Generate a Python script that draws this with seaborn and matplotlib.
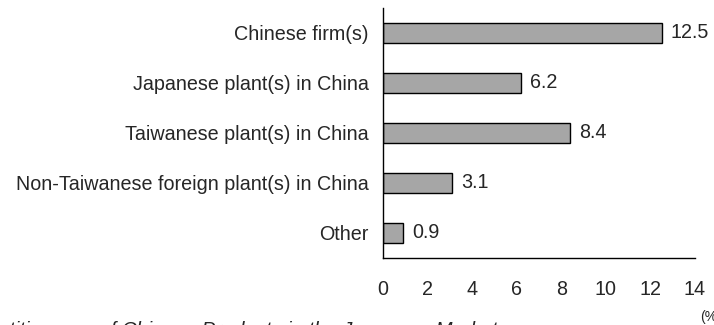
import matplotlib
matplotlib.use("Agg")
import matplotlib.pyplot as plt
import seaborn as sns
import pandas as pd
import numpy as np

categories = ["Chinese firm(s)", "Japanese plant(s) in China", "Taiwanese plant(s) in China",
              "Non-Taiwanese foreign plant(s) in China", "Other"]
values = [12.5, 6.2, 8.4, 3.1, 0.9]
value_labels = ["12.5", "6.2", "8.4", "3.1", "0.9"]
x_ticks = [0, 2, 4, 6, 8, 10, 12, 14]
footer = "Competitiveness of Chinese Products in the Japanese Market"
unit = "(%)"

sns.set_style("white")
plt.rcParams['font.family'] = ['Liberation Sans', 'DejaVu Sans']

df = pd.DataFrame({"category": categories, "value": values})

fs = 14.2
fig = plt.figure(figsize=(7.14, 3.25), dpi=100)
ax = fig.add_axes([383/714, 1 - 258/325, (695 - 383)/714, 250/325])
sns.barplot(data=df, x="value", y="category", orient="h", color="#a6a6a6",
            edgecolor="black", linewidth=1.0, width=0.4, saturation=1, ax=ax)

ax.set_xlim(0, 14)
ax.set_ylim(4.5, -0.5)
ax.set_xticks(x_ticks)
ax.set_xticklabels([str(t) for t in x_ticks], fontsize=fs)
ax.set_xlabel("")
ax.set_ylabel("")
ax.tick_params(axis='y', which='major', length=0, labelsize=fs, pad=10.5)
ax.set_yticks(np.arange(-0.5, 5.0, 1.0), minor=True)
ax.tick_params(axis='y', which='minor', direction='in', length=5, width=1, color='black')
ax.tick_params(axis='x', which='major', direction='in', length=5, width=1, color='black', pad=16)
for s in ["top", "right"]:
    ax.spines[s].set_visible(False)
for s in ["left", "bottom"]:
    ax.spines[s].set_color("black")
    ax.spines[s].set_linewidth(1.0)

for i, (v, lab) in enumerate(zip(values, value_labels)):
    ax.annotate(lab, xy=(v, i), xytext=(6.5, 0), textcoords="offset points",
                va="center", ha="left", fontsize=fs)

fig.text(700/714, 1 - 310/325, unit, fontsize=10, ha="left", va="top")
fig.text(497/714, 1 - 336/325, footer, fontsize=14.6, style="italic",
         ha="right", va="baseline")

fig.savefig("out.png", dpi=100)
